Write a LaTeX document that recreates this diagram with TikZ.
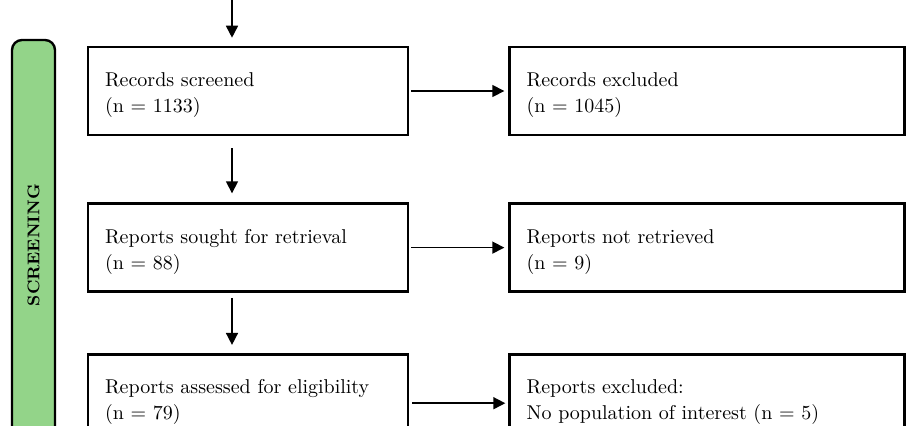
\documentclass[tikz,border=0pt]{standalone}
\usepackage{tikz}
\usetikzlibrary{positioning, arrows.meta}
\definecolor{phasegreen}{RGB}{147,212,137}

\begin{document}
\begin{tikzpicture}[x=0.5pt, y=-0.5pt,
   -{Triangle[length=6pt, width=6pt]}, line width=0.8pt,
   box/.style = {draw, rectangle, line width=1.3pt, minimum height=44pt,
      text width=143pt, inner xsep=8.5pt, align=left,
      font=\fontsize{10}{13}\selectfont,
      execute at begin node=\rule{0pt}{11pt}},
   wide/.style = {box, text width=180.5pt},
   phase/.style = {draw, fill=phasegreen, line width=1.2pt, rounded corners=5pt,
      minimum width=205pt, minimum height=21.5pt, rotate=90,
      font=\fontsize{8.5}{10}\selectfont\bfseries}]
   \useasboundingbox (0,0) rectangle (920,425);
   \clip (0,0) rectangle (920,425);

   \node[phase] (screening) at (33.5,245) {SCREENING};

   \node[box] (screened) at (248,91) {Records screened\\(n = 1133)};
   \node[wide, right=49.5pt of screened] (excluded) {Records excluded\\(n = 1045)};
   \node[box, below=33pt of screened] (sought) {Reports sought for retrieval\\(n = 88)};
   \node[wide, right=49.5pt of sought] (notretrieved) {Reports not retrieved\\(n = 9)};
   \node[box, below=30pt of sought] (assessed) {Reports assessed for eligibility\\(n = 79)};
   \node[wide, right=49.5pt of assessed] (reportsout) {Reports excluded:\\No population of interest (n = 5)};

   % down the main column
   \coordinate (incoming) at (232,-10);
   \draw (incoming) -- ([xshift=-8pt, yshift=4pt]screened.north);
   \draw ([xshift=-8pt, yshift=-6pt]screened.south) -- ([xshift=-8pt, yshift=4.5pt]sought.north);
   \draw ([xshift=-8pt, yshift=-2.5pt]sought.south) -- ([xshift=-8pt, yshift=4pt]assessed.north);

   % across to the exclusions
   \draw ([xshift=1pt]screened.east) -- ([xshift=-2pt]excluded.west);
   \draw ([xshift=1pt]sought.east) -- ([xshift=-2pt]notretrieved.west);
   \draw ([xshift=1.5pt, yshift=-2.5pt]assessed.east) -- ([xshift=-1.5pt, yshift=-2.5pt]reportsout.west);
\end{tikzpicture}
\end{document}
